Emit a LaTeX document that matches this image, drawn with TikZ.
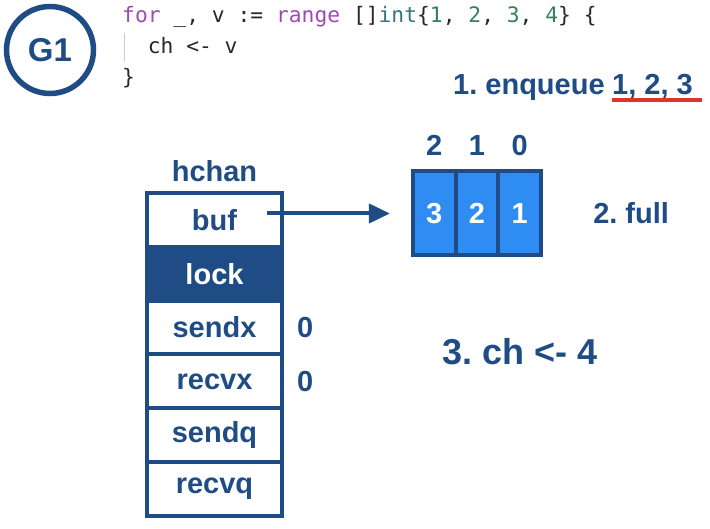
\documentclass[tikz,border=0pt]{standalone}
\usepackage{fontspec}
\setmainfont{Liberation Sans}
\newfontfamily\codefont{DejaVu Sans Mono}
\usepackage{xcolor}
\usetikzlibrary{arrows.meta,positioning}
\definecolor{hblue}{RGB}{31,76,132}
\definecolor{cellblue}{RGB}{46,140,242}
\definecolor{kw}{RGB}{160,72,185}
\definecolor{ty}{RGB}{50,118,130}
\definecolor{num}{RGB}{52,128,88}
\definecolor{codetxt}{RGB}{40,40,40}
\definecolor{ulred}{RGB}{222,52,42}
\frenchspacing

\begin{document}
\begin{tikzpicture}[x=1pt,y=-1pt,
  lbl/.style={text=hblue,inner sep=0pt,font=\bfseries\fontsize{29}{34}\selectfont},
  row/.style={draw=hblue,line width=4pt,fill=white,outer sep=0pt,
              minimum width=135pt,minimum height=53.8pt,text=hblue,
              font=\bfseries\fontsize{29}{34}\selectfont},
  cell/.style={draw=hblue,line width=4pt,fill=cellblue,outer sep=0pt,
               minimum width=42.7pt,minimum height=84pt,text=white,
               font=\bfseries\fontsize{29}{34}\selectfont},
  code/.style={text=codetxt,inner sep=0pt,font=\codefont\fontsize{21.3}{26}\selectfont},
  ptr/.style={draw=hblue,line width=4pt,-{Triangle[length=21pt,width=19pt]}}]
  \useasboundingbox (0,0) rectangle (710,529);
  \node[draw=hblue,circle,line width=5.5pt,minimum size=87pt,text=hblue,
        font=\bfseries\fontsize{33}{38}\selectfont] (g1) at (50,50) {G1};
  \node[code,anchor=base west] (code1) at (122,23) {\textcolor{kw}{for} \_, v := \textcolor{kw}{range} []\textcolor{ty}{int}\{\textcolor{num}{1}, \textcolor{num}{2}, \textcolor{num}{3}, \textcolor{num}{4}\} \{};
  \node[code,anchor=base west] (code2) at (147.6,54) {ch <- v};
  \node[code,anchor=base west] (code3) at (122,85) {\}};
  \draw[black!20,line width=1pt] (124,33) -- (124,62);
  \node[lbl,anchor=base west] (enq) at (453,95) {1. enqueue};
  \node[lbl,anchor=base west] (nums) at (612,95) {1, 2, 3};
  \draw[ulred,line width=4pt] ([yshift=-5.5pt]nums.base west) -- ([xshift=9pt,yshift=-5.5pt]nums.base east);
  \node[row] (buf) at (214.5,220) {buf};
  \node[row,fill=hblue,text=white,below=0pt of buf] (lock) {lock};
  \node[row,below=0pt of lock] (sendx) {sendx};
  \node[row,below=0pt of sendx] (recvx) {recvx};
  \node[row,below=0pt of recvx] (sendq) {sendq};
  \node[row,below=0pt of sendq] (recvq) {recvq};
  \node[lbl,above=11pt of buf] (hchan) {hchan};
  \node[lbl,right=15pt of sendx] (sx) {0};
  \node[lbl,right=15pt of recvx] (rx) {0};
  \node[cell] (c1) at (434.3,213.5) {3};
  \node[cell,right=0pt of c1] (c2) {2};
  \node[cell,right=0pt of c2] (c3) {1};
  \node[lbl,above=16pt of c1] (i2) {2};
  \node[lbl,above=16pt of c2] (i1) {1};
  \node[lbl,above=16pt of c3] (i0) {0};
  \node[lbl,right=52pt of c3] (full) {2. full};
  \node[lbl,font=\bfseries\fontsize{36}{42}\selectfont] (ch4) at (520,352) {3. ch <- 4};
  \coordinate (bufptr) at (267,213.5);
  \draw[ptr,shorten >=23pt] (bufptr) -- (c1.west);
\end{tikzpicture}
\end{document}
